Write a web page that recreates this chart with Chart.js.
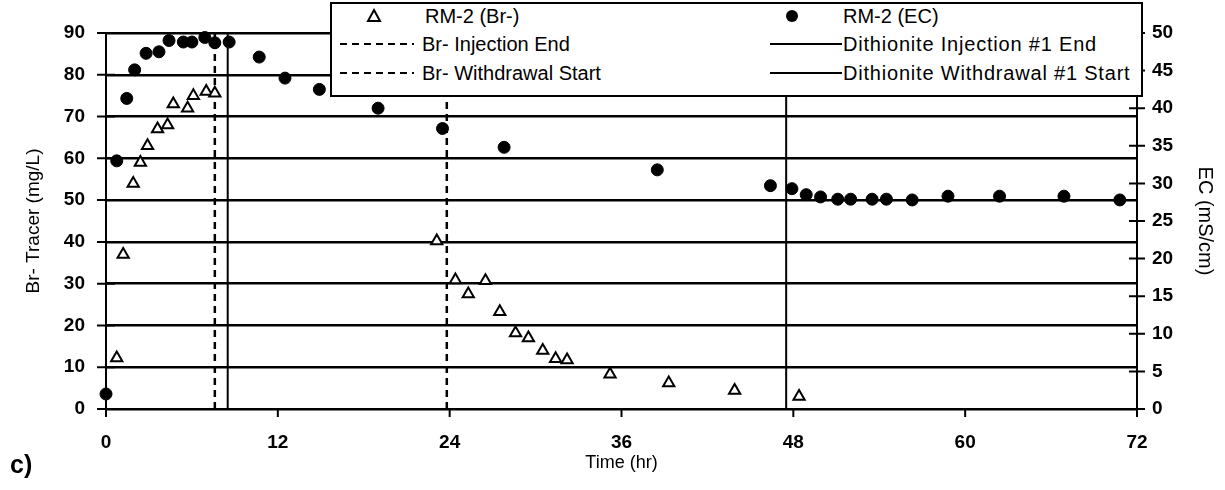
<!DOCTYPE html>
<html>
<head>
<meta charset="utf-8">
<script src="https://cdn.jsdelivr.net/npm/chart.js@4.4.1/dist/chart.umd.min.js"></script>
<style>
    body { margin: 0; background: #fff; }
    #wrap { position: relative; width: 1225px; height: 490px; }
    #legend {
        position: absolute; left: 330px; top: 2px; width: 809px; height: 91px;
        border: 2px solid #000; background: #fff;
        font-family: 'Liberation Sans', Arial, sans-serif; font-size: 20px; color: #000;
    }
    #legend .sym { position: absolute; }
    #legend .txt { position: absolute; line-height: 22px; white-space: nowrap; }
    #legend .wide { letter-spacing: 0.8px; }
    #tag {
        position: absolute; left: 10px; top: 450px;
        font-family: 'Liberation Sans', Arial, sans-serif; font-weight: bold; font-size: 25px;
    }
</style>
</head>
<body>
<div id="wrap">
    <canvas id="chart"></canvas>
    <div id="legend">
        <svg class="sym" style="left:30px;top:1px" width="24" height="22"><polygon points="12,5 18,16 6,16" fill="#fff" stroke="#000" stroke-width="2"/></svg>
        <span class="txt" style="left:93px;top:1px">RM-2 (Br-)</span>
        <svg class="sym" style="left:8px;top:29px" width="74" height="22"><line x1="0" y1="11" x2="74" y2="11" stroke="#000" stroke-width="2" stroke-dasharray="7,5"/></svg>
        <span class="txt" style="left:90px;top:29px">Br- Injection End</span>
        <svg class="sym" style="left:8px;top:58px" width="74" height="22"><line x1="0" y1="11" x2="74" y2="11" stroke="#000" stroke-width="2" stroke-dasharray="7,5"/></svg>
        <span class="txt" style="left:90px;top:58px">Br- Withdrawal Start</span>
        <svg class="sym" style="left:448px;top:1px" width="24" height="22"><circle cx="12" cy="11" r="6" fill="#000"/></svg>
        <span class="txt" style="left:511px;top:1px">RM-2 (EC)</span>
        <svg class="sym" style="left:438px;top:29px" width="72" height="22"><line x1="0" y1="11" x2="72" y2="11" stroke="#000" stroke-width="2"/></svg>
        <span class="txt wide" style="left:511px;top:29px">Dithionite Injection #1 End</span>
        <svg class="sym" style="left:438px;top:58px" width="72" height="22"><line x1="0" y1="11" x2="72" y2="11" stroke="#000" stroke-width="2"/></svg>
        <span class="txt wide" style="left:511px;top:58px">Dithionite Withdrawal #1 Start</span>
    </div>
    <div id="tag">c)</div>
</div>
<script>
// RM-2 bromide tracer (mg/L)
const brTime  = [0.75, 1.2, 1.9, 2.4, 2.9, 3.6, 4.3, 4.7, 5.7, 6.1, 7.0, 7.6,
                 23.1, 24.4, 25.3, 26.5, 27.5, 28.6, 29.5, 30.5, 31.4, 32.2, 35.2, 39.3, 43.9, 48.4];
const brValue = [12.2, 37, 54, 59, 63, 67, 68, 73, 72, 75, 76, 75.6,
                 40.2, 30.9, 27.5, 30.7, 23.3, 18.2, 17, 14, 12, 11.7, 8.3, 6.2, 4.4, 3.0];

// RM-2 electrical conductivity (mS/cm)
const ecTime  = [0, 0.75, 1.45, 2.0, 2.8, 3.7, 4.4, 5.4, 6.0, 6.9, 7.6, 8.6, 10.7, 12.5, 14.9, 19.0,
                 23.5, 27.8, 38.5, 46.4, 47.9, 48.9, 49.9, 51.1, 52.0, 53.5, 54.5, 56.3, 58.8, 62.4, 66.9, 70.8];
const ecValue = [2, 33, 41.3, 45.1, 47.3, 47.5, 49, 48.8, 48.8, 49.4, 48.7, 48.8, 46.8, 44, 42.5, 40,
                 37.3, 34.8, 31.8, 29.7, 29.3, 28.5, 28.2, 27.9, 27.9, 27.9, 27.9, 27.8, 28.3, 28.3, 28.3, 27.8];

// event times (hr)
const brInjectionEnd = 7.6;
const brWithdrawalStart = 23.8;
const dithInjectionEnd = 8.5;
const dithWithdrawalStart = 47.5;

const xTicks = [0, 12, 24, 36, 48, 60, 72];
const brTicks = [0, 10, 20, 30, 40, 50, 60, 70, 80, 90];
const ecTicks = [0, 5, 10, 15, 20, 25, 30, 35, 40, 45, 50];

Chart.defaults.font.family = "'Liberation Sans', Arial, sans-serif";
Chart.defaults.color = '#000';
Chart.defaults.animation = false;

const toPoints = (xs, ys) => xs.map((x, i) => ({ x, y: ys[i] }));
const vline = (label, t, dash) => ({
    type: 'line',
    label,
    data: [{ x: t, y: brTicks[0] }, { x: t, y: brTicks[brTicks.length - 1] }],
    borderColor: '#000',
    borderWidth: dash ? 2.5 : 2,
    borderDash: dash ? [7, 5] : [],
    pointRadius: 0,
    yAxisID: 'y',
});

const crossTicks = {
    id: 'crossTicks',
    afterDraw(chart) {
        const { ctx, chartArea: area, scales } = chart;
        ctx.save();
        ctx.strokeStyle = '#000';
        ctx.lineWidth = 2;
        ctx.beginPath();
        for (const v of brTicks) {
            const py = scales.y.getPixelForValue(v);
            ctx.moveTo(area.left - 9, py);
            ctx.lineTo(area.left + 9, py);
        }
        for (const v of ecTicks) {
            const py = scales.y2.getPixelForValue(v);
            ctx.moveTo(area.right - 8, py);
            ctx.lineTo(area.right + 8, py);
        }
        for (const v of xTicks) {
            const px = scales.x.getPixelForValue(v);
            ctx.moveTo(px, area.bottom);
            ctx.lineTo(px, area.bottom + 8);
        }
        ctx.stroke();
        ctx.restore();
    }
};

new Chart(document.getElementById('chart'), {
    type: 'scatter',
    data: {
        datasets: [
            {
                label: 'RM-2 (Br-)',
                data: toPoints(brTime, brValue),
                pointStyle: 'triangle',
                pointRadius: 6.5,
                pointBorderWidth: 2,
                pointBackgroundColor: '#fff',
                pointBorderColor: '#000',
                yAxisID: 'y',
                clip: false,
            },
            {
                label: 'RM-2 (EC)',
                data: toPoints(ecTime, ecValue),
                pointStyle: 'circle',
                pointRadius: 6,
                pointBackgroundColor: '#000',
                pointBorderColor: '#000',
                yAxisID: 'y2',
                clip: false,
            },
            vline('Br- Injection End', brInjectionEnd, true),
            vline('Br- Withdrawal Start', brWithdrawalStart, true),
            vline('Dithionite Injection #1 End', dithInjectionEnd, false),
            vline('Dithionite Withdrawal #1 Start', dithWithdrawalStart, false),
        ],
    },
    options: {
        responsive: true,
        maintainAspectRatio: false,
        layout: { padding: { top: 33, left: 0, right: 0, bottom: 0 }, autoPadding: false },
        plugins: { legend: { display: false }, tooltip: { enabled: false } },
        scales: {
            x: {
                type: 'linear',
                min: 0,
                max: 72,
                afterFit: (s) => { s.height = 81; },
                afterBuildTicks: (s) => { s.ticks = xTicks.map(value => ({ value })); },
                ticks: { padding: 22, font: { size: 19, weight: 'bold' } },
                grid: { display: false, drawTicks: false },
                border: { display: true, color: '#000', width: 2 },
                title: { display: true, text: 'Time (hr)', font: { size: 18 }, padding: { top: 0, bottom: 16 } },
            },
            y: {
                position: 'left',
                min: 0,
                max: 90,
                afterFit: (s) => { s.width = 106; },
                afterBuildTicks: (s) => { s.ticks = brTicks.map(value => ({ value })); },
                ticks: { padding: 21, font: { size: 19, weight: 'bold' } },
                grid: { color: '#000', lineWidth: 2.5, drawTicks: false },
                border: { display: true, color: '#000', width: 2 },
                title: { display: true, text: 'Br- Tracer (mg/L)', font: { size: 19 }, padding: { top: 22, bottom: 0 } },
            },
            y2: {
                position: 'right',
                min: 0,
                max: 50,
                afterFit: (s) => { s.width = 88; },
                afterBuildTicks: (s) => { s.ticks = ecTicks.map(value => ({ value })); },
                ticks: { padding: 15, font: { size: 19, weight: 'bold' } },
                grid: { drawOnChartArea: false, drawTicks: false },
                border: { display: true, color: '#000', width: 2 },
                title: { display: true, text: 'EC (mS/cm)', font: { size: 20 }, padding: { top: 8, bottom: 0 } },
            },
        },
    },
    plugins: [crossTicks],
});
</script>
</body>
</html>
